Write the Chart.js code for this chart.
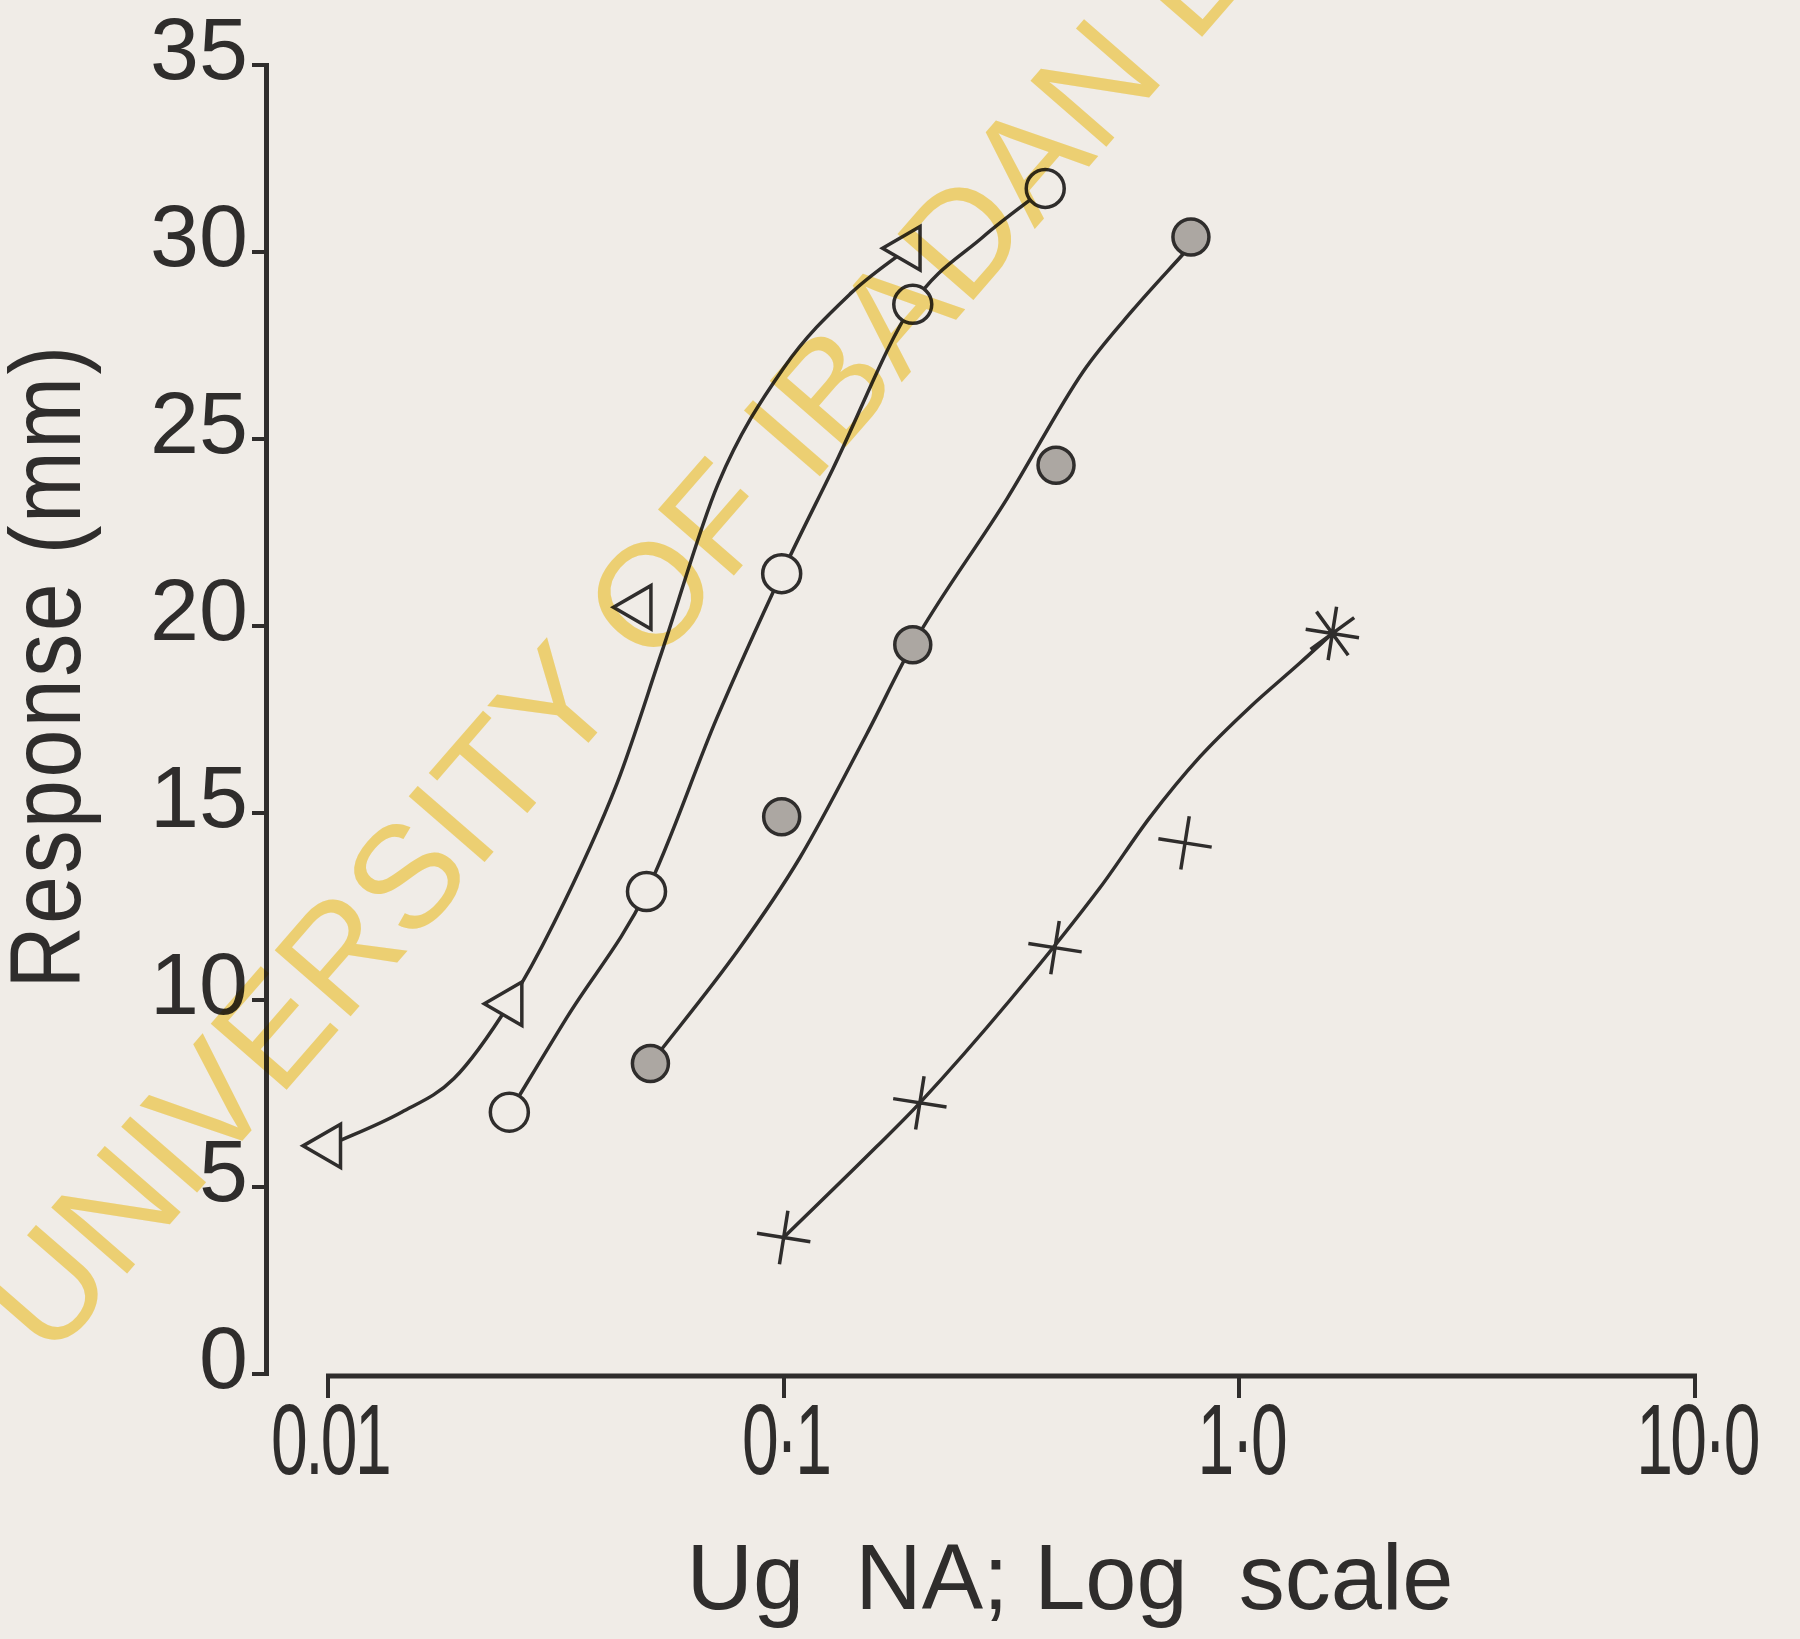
<!DOCTYPE html>
<html>
<head>
<meta charset="utf-8">
<script src="https://cdn.jsdelivr.net/npm/chart.js@4.4.1/dist/chart.umd.min.js"></script>
<style>
  body { margin: 0; background: #f0ece7; }
</style>
</head>
<body>
<canvas id="doseChart" width="1800" height="1639"></canvas>
<script>
// plotted points (x = ug NA, y = response in mm)
const triX = [0.01, 0.025, 0.048, 0.187];
const triY = [6.1, 9.9, 20.5, 30.1];
const openX = [0.025, 0.05, 0.099, 0.192, 0.375];
const openY = [7.0, 12.9, 21.4, 28.6, 31.7];
const fillX = [0.051, 0.099, 0.192, 0.396, 0.783];
const fillY = [8.3, 14.9, 19.5, 24.3, 30.4];
const starX = [0.1, 0.199, 0.394, 0.76, 1.6];
const starY = [3.65, 7.25, 11.4, 14.2, 19.8];

// hand drawn curves
const triCurveX = [0.01, 0.0145, 0.0189, 0.025, 0.0313, 0.0431, 0.054, 0.0718, 0.1, 0.1405, 0.187];
const triCurveY = [6.1, 7.0, 7.9, 9.9, 12.05, 15.8, 19.3, 23.8, 26.9, 28.9, 30.1];
const openCurveX = [0.025, 0.0335, 0.05, 0.0714, 0.099, 0.1282, 0.192, 0.2737, 0.375];
const openCurveY = [7.0, 9.55, 12.9, 17.55, 21.4, 24.2, 28.6, 30.4, 31.7];
const fillCurveX = [0.051, 0.0794, 0.1086, 0.1523, 0.192, 0.309, 0.454, 0.584, 0.76];
const fillCurveY = [8.3, 11.33, 13.81, 17.12, 19.5, 23.4, 26.8, 28.45, 30.0];
const starCurveX = [0.1, 0.16, 0.199, 0.314, 0.4944, 0.637, 0.819, 1.055, 1.358, 1.6];
const starCurveY = [3.65, 6.08, 7.25, 10.0, 13.0, 14.89, 16.5, 17.83, 19.01, 19.8];

const xTicks = [0.01, 0.1, 1, 10];
const xTickLabels = ['0.01', '0·1', '1·0', '10·0'];
const yTicks = [0, 5, 10, 15, 20, 25, 30, 35];
const yTickLabels = ['0', '5', '10', '15', '20', '25', '30', '35'];

const xTitle = 'Ug  NA; Log  scale';
const yTitle = 'Response (mm)';
const watermark = 'UNIVERSITY OF IBADAN LIBRARY';

const paper = '#f0ece7';
const ink = '#2f2d2c';
const sans = "'Liberation Sans', Arial, sans-serif";

function zip(xs, ys) {
    return xs.map((x, i) => ({ x: x, y: ys[i] }));
}

function curve(xs, ys) {
    return {
        type: 'line',
        data: zip(xs, ys),
        showLine: true,
        pointRadius: 0,
        borderColor: ink,
        borderWidth: 3.5,
        cubicInterpolationMode: 'monotone',
        fill: false,
        order: 1
    };
}

const paperPlugin = {
    id: 'paper',
    beforeDraw(chart) {
        const ctx = chart.ctx;
        ctx.save();
        ctx.fillStyle = paper;
        ctx.fillRect(0, 0, chart.width, chart.height);
        ctx.restore();
    }
};

// x axis line only spans 0.01 .. 10, it does not meet the y axis
const xAxisLine = {
    id: 'xAxisLine',
    beforeDatasetsDraw(chart) {
        const { ctx, scales: { x, y } } = chart;
        const py = y.getPixelForValue(0) + 2;
        ctx.save();
        ctx.strokeStyle = ink;
        ctx.lineWidth = 5;
        ctx.beginPath();
        ctx.moveTo(x.getPixelForValue(xTicks[0]) - 2, py);
        ctx.lineTo(x.getPixelForValue(xTicks[xTicks.length - 1]) + 2, py);
        ctx.stroke();
        ctx.restore();
    }
};

// the lettering in the figure is tall and tightly spaced, so squeeze it
function squeezedText(ctx, text, x, y, sx) {
    ctx.save();
    ctx.translate(x, y);
    ctx.scale(sx, 1);
    ctx.fillText(text, 0, 0);
    ctx.restore();
}

const axisText = {
    id: 'axisText',
    afterDraw(chart) {
        const { ctx, chartArea: area, scales: { x } } = chart;
        ctx.save();
        ctx.fillStyle = ink;
        ctx.textAlign = 'center';
        ctx.textBaseline = 'middle';

        // x tick labels
        ctx.font = '100px ' + sans;
        ctx.letterSpacing = '-4px';
        xTicks.forEach((v, i) => {
            squeezedText(ctx, xTickLabels[i], x.getPixelForValue(v) + 2, area.bottom + 72, 0.66);
        });

        // x title
        ctx.letterSpacing = '0px';
        ctx.font = '92px ' + sans;
        ctx.fillText(xTitle, area.left + 804, area.bottom + 210);

        // y title
        ctx.translate(52, area.top + 601);
        ctx.rotate(-Math.PI / 2);
        ctx.font = '100px ' + sans;
        ctx.letterSpacing = '3px';
        squeezedText(ctx, yTitle, 0, 0, 0.86);
        ctx.restore();
    }
};

const watermarkPlugin = {
    id: 'watermark',
    afterDraw(chart) {
        const ctx = chart.ctx;
        ctx.save();
        ctx.globalCompositeOperation = 'multiply';
        ctx.translate(50, 1362);
        ctx.rotate(-49 * Math.PI / 180);
        ctx.font = '146px ' + sans;
        ctx.fillStyle = 'rgb(251, 224, 126)';
        ctx.fillText(watermark, 0, 0);
        ctx.restore();
    }
};

function createDoseChart() {
    const config = {
        type: 'scatter',
        data: {
            datasets: [
                curve(triCurveX, triCurveY),
                curve(openCurveX, openCurveY),
                curve(fillCurveX, fillCurveY),
                curve(starCurveX, starCurveY),
                {
                    label: 'triangle',
                    data: zip(triX, triY),
                    pointStyle: 'triangle',
                    pointRotation: -90,
                    pointRadius: 25,
                    pointBorderWidth: 3.5,
                    pointBorderColor: ink,
                    pointBackgroundColor: paper,
                    order: 0
                },
                {
                    label: 'open circle',
                    data: zip(openX, openY),
                    pointStyle: 'circle',
                    pointRadius: 19,
                    pointBorderWidth: 3.5,
                    pointBorderColor: ink,
                    pointBackgroundColor: paper,
                    order: 0
                },
                {
                    label: 'filled circle',
                    data: zip(fillX, fillY),
                    pointStyle: 'circle',
                    pointRadius: 18,
                    pointBorderWidth: 3.5,
                    pointBorderColor: ink,
                    pointBackgroundColor: '#aca7a2',
                    order: 0
                },
                {
                    label: 'star',
                    data: zip(starX, starY),
                    pointStyle: ['cross', 'cross', 'cross', 'cross', 'star'],
                    pointRotation: 9,
                    pointRadius: 27,
                    pointBorderWidth: 3.5,
                    pointBorderColor: ink,
                    order: 0
                }
            ]
        },
        options: {
            responsive: false,
            animation: false,
            events: [],
            layout: {
                padding: { top: 65, right: 105, bottom: 0, left: 0 }
            },
            plugins: {
                legend: { display: false },
                tooltip: { enabled: false }
            },
            scales: {
                x: {
                    type: 'logarithmic',
                    min: 0.00731,
                    max: 10,
                    afterBuildTicks: (scale) => {
                        scale.ticks = xTicks.map(v => ({ value: v }));
                    },
                    afterFit: (scale) => {
                        scale.height = 265;
                        scale.paddingLeft = 0;
                        scale.paddingRight = 0;
                    },
                    border: { display: false },
                    grid: {
                        drawOnChartArea: false,
                        drawTicks: true,
                        tickLength: 24,
                        color: ink,
                        lineWidth: 4
                    },
                    ticks: { display: false }
                },
                y: {
                    min: 0,
                    max: 35,
                    afterBuildTicks: (scale) => {
                        scale.ticks = yTicks.map(v => ({ value: v }));
                    },
                    afterFit: (scale) => {
                        scale.width = 266;
                        scale.paddingTop = 0;
                        scale.paddingBottom = 0;
                    },
                    border: { display: true, color: ink, width: 5 },
                    grid: {
                        drawOnChartArea: false,
                        drawTicks: true,
                        tickLength: 14,
                        color: ink,
                        lineWidth: 4
                    },
                    ticks: {
                        callback: (value, index) => yTickLabels[index],
                        padding: 4,
                        labelOffset: -10,
                        color: ink,
                        font: { family: sans, size: 88 }
                    }
                }
            }
        },
        plugins: [paperPlugin, xAxisLine, axisText, watermarkPlugin]
    };

    new Chart(document.getElementById('doseChart'), config);
}

window.onload = createDoseChart;
</script>
</body>
</html>
